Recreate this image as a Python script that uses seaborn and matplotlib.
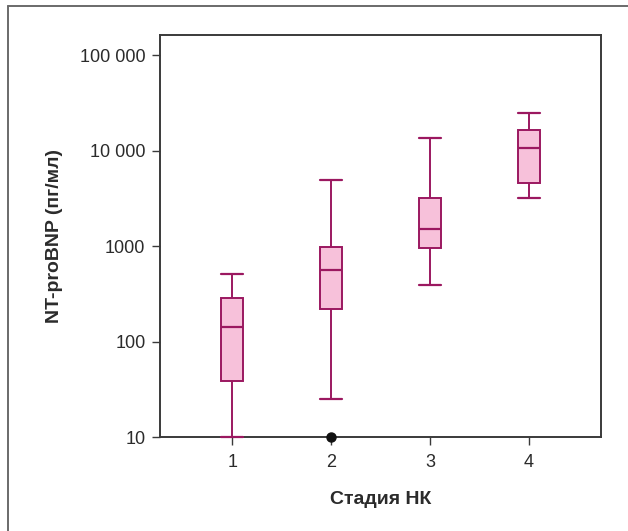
import numpy as np
import pandas as pd
import matplotlib
matplotlib.use("Agg")
import matplotlib.pyplot as plt
from matplotlib.lines import Line2D
import seaborn as sns

# Stages of heart failure and NT-proBNP five-number summaries (pg/ml)
stages = ["1", "2", "3", "4"]
whisker_low = [10, 25, 390, 3200]
q1 = [39, 220, 950, 4550]
median = [142, 560, 1500, 10700]
q3 = [285, 980, 3200, 16500]
whisker_high = [505, 4900, 13700, 24800]

# Single outlier
outlier_stage = "2"
outlier_value = 10

ytick_values = [10, 100, 1000, 10000, 100000]
ytick_labels = ["10", "100", "1000", "10 000", "100 000"]

edge = "#9b1860"
fill = "#f7c1da"
ink = "#2b2b2b"

rows = []
for i, s in enumerate(stages):
    for v in (whisker_low[i], q1[i], median[i], q3[i], whisker_high[i]):
        rows.append({"stage": s, "value": v})
df = pd.DataFrame(rows)

sns.set_theme(style="white")
plt.rcParams["font.family"] = ["Liberation Sans", "DejaVu Sans"]

fig = plt.figure(figsize=(6.28, 5.31), dpi=100)
ax = fig.add_axes([160 / 628, 1 - 437 / 531, (601 - 160) / 628, (437 - 35) / 531])

sns.boxplot(
    data=df, x="stage", y="value", order=stages, ax=ax,
    whis=(0, 100), width=0.22, log_scale=True,
    color=fill, linecolor=edge, linewidth=1.4, fliersize=0,
    capwidths=0.22,
    boxprops=dict(facecolor=fill, edgecolor=edge),
    medianprops=dict(color=edge, linewidth=1.6),
    whiskerprops=dict(color=edge, linewidth=1.4),
    capprops=dict(color=edge, linewidth=1.6),
)

# Let whiskers and caps sitting on the lower limit stay visible
for ln in ax.lines:
    ln.set_clip_on(False)

ax.plot(stages.index(outlier_stage), outlier_value, "o", color="#111111",
        markersize=6.5, clip_on=False, zorder=5)

ax.set_yscale("log")
ax.set_ylim(10, 163000)
ax.set_xlim(-0.73, 3.73)
ax.set_yticks(ytick_values)
ax.set_yticklabels(ytick_labels)
ax.yaxis.set_minor_locator(matplotlib.ticker.NullLocator())
ax.set_xticks(range(len(stages)))
ax.set_xticklabels(stages)

for sp in ax.spines.values():
    sp.set_visible(True)
    sp.set_color("#3a3a3a")
    sp.set_linewidth(1.4)
    sp.set_zorder(1)

ax.tick_params(axis="both", which="major", direction="out", length=5.5,
               width=1.0, color="#3a3a3a", labelsize=13, labelcolor=ink,
               left=True, bottom=True, pad=5)
ax.tick_params(axis="x", pad=7)

ax.set_xlabel("Стадия НК", fontsize=14, fontweight="bold", color=ink, labelpad=14)
ax.set_ylabel("NT-proBNP (пг/мл)", fontsize=14, fontweight="bold", color=ink, labelpad=12)

# Outer frame (top and left edges)
fx = 8 / 628
fy = 1 - 6 / 531
fig.add_artist(Line2D([fx, 1.0], [fy, fy], transform=fig.transFigure,
                      color="#6a6a6a", linewidth=1.4))
fig.add_artist(Line2D([fx, fx], [0.0, fy], transform=fig.transFigure,
                      color="#6a6a6a", linewidth=1.4))

fig.savefig("out.png", dpi=100)
